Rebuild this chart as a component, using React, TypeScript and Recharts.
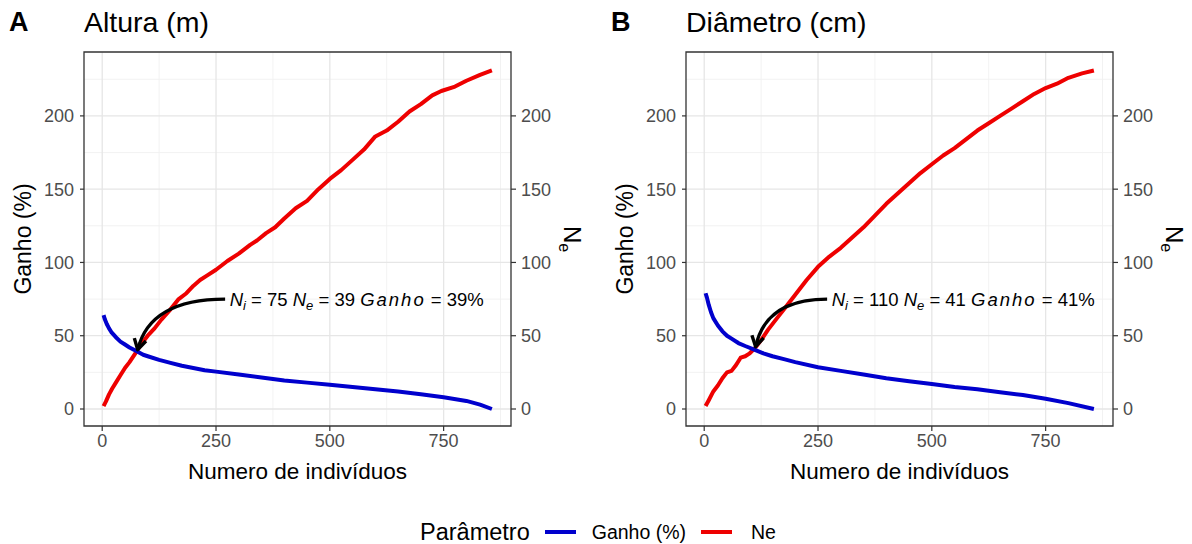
import React from 'react';
import {
  LineChart,
  Line,
  XAxis,
  YAxis,
  CartesianGrid,
  ReferenceLine,
  ReferenceDot,
  ReferenceArea,
} from 'recharts';

const xTicks = [0, 250, 500, 750];
const xMinor = [125, 375, 625, 875];
const yTicks = [0, 50, 100, 150, 200];
const yMinor = [25, 75, 125, 175, 225];

// [numero de individuos, valor]
const alturaGanho = [
  [3, 64], [6, 61], [10, 58], [15, 55], [20, 52.5], [30, 49], [40, 46], [50, 44], [60, 42],
  [75, 39.5], [90, 37], [100, 36], [125, 33.5], [150, 31.5], [175, 29.5], [200, 28], [225, 26.5],
  [250, 25.5], [300, 23.5], [350, 21.5], [400, 19.5], [450, 18], [500, 16.5], [550, 15],
  [600, 13.5], [650, 12], [700, 10], [750, 8], [800, 5.5], [830, 3], [856, 0],
];
const alturaNe = [
  [3, 2], [8, 5], [15, 10], [22, 14], [30, 18], [40, 23], [50, 28], [60, 32], [75, 39], [85, 44],
  [100, 50], [115, 55], [130, 61], [150, 68], [168, 75], [185, 79], [200, 84], [215, 88], [230, 91],
  [250, 95], [275, 101], [300, 106], [325, 112], [340, 115], [360, 120], [380, 124], [400, 130],
  [425, 137], [450, 142], [475, 150], [500, 157], [525, 163], [550, 170], [575, 177], [600, 186],
  [625, 190], [650, 196], [675, 203], [700, 208], [725, 214], [745, 217], [775, 220], [800, 224],
  [830, 228], [856, 231],
];
const diametroGanho = [
  [3, 79], [6, 76], [10, 71], [15, 66], [20, 62], [30, 57], [40, 53], [50, 50], [60, 48], [75, 45],
  [90, 43], [110, 40.5], [130, 38], [150, 36], [175, 34], [200, 32], [250, 28.5], [300, 26],
  [350, 23.5], [400, 21], [450, 19], [500, 17], [550, 15], [600, 13.5], [650, 11.5], [700, 9.5],
  [750, 7], [800, 4], [856, 0],
];
const diametroNe = [
  [3, 2], [10, 6], [20, 12], [30, 16], [40, 21], [50, 25], [60, 26], [70, 30], [80, 35], [90, 36],
  [100, 38], [110, 41], [125, 47], [140, 54], [160, 62], [180, 70], [200, 78], [225, 88], [250, 97],
  [275, 104], [300, 110], [325, 117], [350, 124], [375, 132], [400, 140], [425, 147], [450, 154],
  [475, 161], [500, 167], [525, 173], [550, 178], [575, 184], [600, 190], [625, 195], [650, 200],
  [675, 205], [700, 210], [725, 215], [750, 219], [775, 222], [800, 226], [830, 229], [856, 231],
];

const alturaNote = { ni: 75, ne: 39, ganho: 39 };
const diametroNote = { ni: 110, ne: 41, ganho: 41 };

const BLUE = '#0000CD';
const RED = '#EE0000';
const FONT = '"Liberation Sans", Arial, sans-serif';
const X_DOMAIN = [-40, 898];
const Y_DOMAIN = [-11.6, 243.6];

const toRows = (pts: number[][]) => pts.map(([x, y]) => ({ x, y }));

const CurvedArrow = (p: any) => {
  const { x1, y1, x2, y2 } = p;
  const cx = x2 + (x1 - x2) * 0.14;
  const cy = y1;
  const dx = x2 - cx;
  const dy = y2 - cy;
  const len = Math.hypot(dx, dy) || 1;
  const bx = -dx / len;
  const by = -dy / len;
  const h = 12;
  const a = Math.PI / 6;
  const rot = (ang: number) => [
    x2 + h * (bx * Math.cos(ang) - by * Math.sin(ang)),
    y2 + h * (bx * Math.sin(ang) + by * Math.cos(ang)),
  ];
  const [ax1, ay1] = rot(a);
  const [ax2, ay2] = rot(-a);
  return (
    <g>
      <path d={`M${x1},${y1} Q${cx},${cy} ${x2},${y2}`} fill="none" stroke="#000" strokeWidth={3.2} />
      <path d={`M${ax1},${ay1} L${x2},${y2} L${ax2},${ay2}`} fill="none" stroke="#000" strokeWidth={3.4} strokeLinejoin="round" />
    </g>
  );
};

const makeNote = (note: { ni: number; ne: number; ganho: number }) => (p: any) => (
  <text x={p.cx} y={p.cy} dy="0.36em" fontSize={18.5} fill="#000" fontFamily={FONT}>
    <tspan fontStyle="italic">N</tspan>
    <tspan fontStyle="italic" fontSize={13} dy={4}>i</tspan>
    <tspan dy={-4}>{` = ${note.ni} `}</tspan>
    <tspan fontStyle="italic">N</tspan>
    <tspan fontStyle="italic" fontSize={13} dy={4}>e</tspan>
    <tspan dy={-4}>{` = ${note.ne} `}</tspan>
    <tspan fontStyle="italic" letterSpacing={2}>Ganho</tspan>
    <tspan>{` = ${note.ganho}%`}</tspan>
  </text>
);

type PanelProps = {
  left: number;
  letter: string;
  title: string;
  ganho: number[][];
  ne: number[][];
  note: { ni: number; ne: number; ganho: number };
};

const tickStyle = { fill: '#4D4D4D', fontSize: 18, fontFamily: FONT };

const Panel = ({ left, letter, title, ganho, ne, note }: PanelProps) => (
  <div style={{ position: 'absolute', left, top: 0, width: 590, height: 500 }}>
    <div style={{ position: 'absolute', left: 9, top: 9, fontSize: 27, fontWeight: 'bold', fontFamily: FONT, lineHeight: 1 }}>{letter}</div>
    <div style={{ position: 'absolute', left: 84, top: 8, fontSize: 28.5, fontFamily: FONT, lineHeight: 1 }}>{title}</div>
    <LineChart width={590} height={500} margin={{ top: 52, right: 0, bottom: 20, left: 0 }}>
      <CartesianGrid stroke="#F0F0F0" strokeWidth={0.9} horizontalValues={yMinor} verticalValues={xMinor} />
      <CartesianGrid stroke="#E6E6E6" strokeWidth={1.3} horizontalValues={yTicks} verticalValues={xTicks} />
      <XAxis
        dataKey="x"
        type="number"
        domain={X_DOMAIN}
        ticks={xTicks}
        allowDataOverflow
        height={54}
        axisLine={false}
        tickSize={5}
        tickMargin={3}
        tickLine={{ stroke: '#333', strokeWidth: 1.2 }}
        tick={tickStyle}
        label={{
          content: (lp: any) => {
            const vb = lp.viewBox;
            return (
              <text x={vb.x + vb.width / 2} y={vb.y + 53} textAnchor="middle" fontSize={22.5} fontFamily={FONT} fill="#000">
                Numero de indivíduos
              </text>
            );
          },
        }}
      />
      <YAxis
        type="number"
        domain={Y_DOMAIN}
        ticks={yTicks}
        allowDataOverflow
        width={84}
        axisLine={false}
        tickSize={4}
        tickMargin={6}
        tickLine={{ stroke: '#333', strokeWidth: 1.2 }}
        tick={tickStyle}
        label={{
          content: (lp: any) => {
            const vb = lp.viewBox;
            const cy = vb.y + vb.height / 2;
            return (
              <text x={23} y={cy} dy="0.35em" textAnchor="middle" fontSize={23} fontFamily={FONT} fill="#000" transform={`rotate(-90 23 ${cy})`}>
                Ganho (%)
              </text>
            );
          },
        }}
      />
      <YAxis
        yAxisId="r"
        orientation="right"
        type="number"
        domain={Y_DOMAIN}
        ticks={yTicks}
        allowDataOverflow
        width={79}
        axisLine={false}
        tickSize={5}
        tickMargin={5}
        tickLine={{ stroke: '#333', strokeWidth: 1.2 }}
        tick={tickStyle}
        label={{
          content: (lp: any) => {
            const vb = lp.viewBox;
            const cy = vb.y + vb.height / 2;
            const cx = vb.x + 61;
            return (
              <text x={cx} y={cy} dy="0.35em" textAnchor="middle" fontSize={24} fontFamily={FONT} fill="#000" transform={`rotate(90 ${cx} ${cy})`}>
                N<tspan fontSize={16} dy={5}>e</tspan>
              </text>
            );
          },
        }}
      />
      <Line data={toRows(ne)} dataKey="y" stroke={RED} strokeWidth={4} dot={false} isAnimationActive={false} strokeLinejoin="round" />
      <Line data={toRows(ganho)} dataKey="y" stroke={BLUE} strokeWidth={4} dot={false} isAnimationActive={false} strokeLinejoin="round" />
      <ReferenceLine
        segment={[{ x: 270, y: 75 }, { x: note.ni + 3, y: note.ne + 1.5 }]}
        shape={CurvedArrow}
      />
      <ReferenceDot x={280} y={75} r={0} shape={makeNote(note)} />
      <ReferenceArea x1={X_DOMAIN[0]} x2={X_DOMAIN[1]} y1={Y_DOMAIN[0]} y2={Y_DOMAIN[1]} fill="none" stroke="#333" strokeWidth={1.3} />
    </LineChart>
  </div>
);

export default function App() {
  return (
    <div style={{ position: 'absolute', left: 0, top: 0, width: 1192, height: 544, background: '#fff', overflow: 'hidden', fontFamily: FONT }}>
      <Panel left={0} letter="A" title="Altura (m)" ganho={alturaGanho} ne={alturaNe} note={alturaNote} />
      <Panel left={602} letter="B" title="Diâmetro (cm)" ganho={diametroGanho} ne={diametroNe} note={diametroNote} />
      <div style={{ position: 'absolute', left: 420, top: 518, height: 28, display: 'flex', alignItems: 'center', fontFamily: FONT }}>
        <span style={{ fontSize: 23.5, marginRight: 15 }}>Parâmetro</span>
        <span style={{ display: 'inline-block', width: 31, height: 4, background: BLUE, marginRight: 16 }} />
        <span style={{ fontSize: 19.5, marginRight: 15 }}>Ganho (%)</span>
        <span style={{ display: 'inline-block', width: 31, height: 4, background: RED, marginRight: 19 }} />
        <span style={{ fontSize: 19.5 }}>Ne</span>
      </div>
    </div>
  );
}
